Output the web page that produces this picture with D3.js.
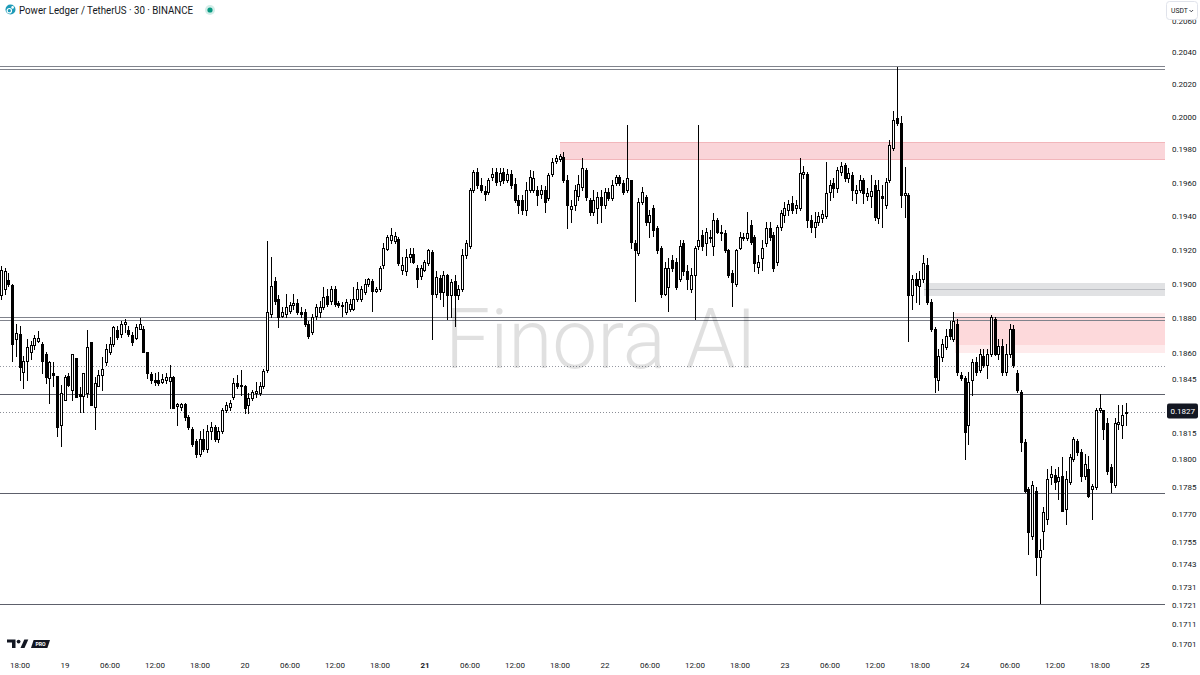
<!DOCTYPE html>
<html>
<head>
<meta charset="utf-8">
<script src="https://cdn.jsdelivr.net/npm/d3@7"></script>
<style>
html,body{margin:0;padding:0;background:#ffffff;}
svg{display:block;}
text{font-family:Roboto,"Liberation Sans",Arial,sans-serif;}
</style>
</head>
<body>
<svg id="chart" width="1200" height="675"></svg>
<script>
// ---------------- DATA (prices in units of 0.0001 USDT) ----------------
const PRICE_UNIT = 1e-4;
const firstCandle = Date.UTC(2025, 8, 18, 15, 30); // 30-minute candles
const candleMinutes = 30;

const openP = [
1893.5,1897.0,1902.2,1899.3,1868.1,1871.0,1849.6,1855.4,1860.6,1864.6,1866.9,1865.2,1859.4,1846.1,1849.0,1847.3,1819.2,
1833.4,1847.3,1839.2,1857.1,1836.9,1835.7,1837.4,1866.4,1829.5,1841.5,1847.8,1854.8,1860.6,1865.2,1873.3,1871.0,1876.7,1873.3,1870.4,1868.7,
1873.8,1873.8,1860.6,1848.4,1844.9,1844.9,1843.8,1844.9,1844.4,1846.7,1830.1,1829.5,1831.2,1824.1,1817.0,1810.5,1803.4,1811.6,1806.1,1815.9,
1818.1,1811.6,1815.9,1827.9,1829.5,1835.1,1843.2,1841.5,1841.5,1830.6,1834.5,1837.4,1837.4,1841.5,1850.7,1882.5,1901.6,1891.2,1881.4,1882.5,
1884.3,1887.7,1888.9,1883.7,1883.7,1876.7,1872.1,1881.4,1883.7,1886.6,1892.9,1890.0,1897.0,1888.9,1887.7,1883.7,1885.4,1885.4,1891.2,1891.2,
1895.2,1899.9,1901.6,1895.8,1897.0,1911.4,1920.9,1925.7,1925.1,1926.3,1908.0,1907.4,1916.1,1917.8,1909.7,1904.5,1908.5,1912.6,1919.0,1894.1,
1903.3,1895.2,1905.1,1893.5,1901.6,1893.5,1897.0,1917.2,1922.7,1955.9,1966.7,1958.9,1955.3,1954.7,1963.7,1966.7,1961.3,1966.7,1961.9,1965.5,
1959.5,1949.9,1949.9,1943.8,1955.9,1955.9,1955.9,1953.5,1955.9,1951.1,1965.5,1973.4,1974.6,1975.8,1961.9,1944.4,1946.8,1952.3,1957.7,1967.9,
1949.9,1942.6,1945.0,1951.7,1946.8,1954.7,1951.1,1960.1,1963.7,1960.1,1955.9,1961.9,1923.9,1918.4,1948.6,1951.7,1936.6,1945.0,1933.0,1921.5,
1894.1,1898.1,1914.3,1913.2,1902.8,1923.9,1907.4,1897.0,1905.6,1922.7,1928.7,1923.9,1927.5,1922.7,1937.8,1930.6,1929.9,1920.0,1906.8,1899.9,
1921.5,1926.9,1926.9,1934.8,1927.5,1910.3,1915.5,1923.9,1933.0,1928.7,1913.2,1933.6,1940.8,1943.8,1948.0,1945.0,1945.0,1965.5,1965.5,1937.8,
1933.6,1936.6,1939.0,1940.2,1954.7,1960.1,1957.1,1966.7,1971.0,1963.1,1964.9,1954.1,1955.9,1961.9,1952.3,1952.3,1958.9,1939.0,1952.3,1946.8,
1961.9,1981.2,1999.3,1996.3,1952.9,1952.9,1893.5,1902.8,1898.7,1902.8,1911.4,1889.5,1873.8,1844.9,1857.7,1863.5,1873.8,1868.1,1876.7,1847.8,
1846.1,1819.7,1844.9,1854.8,1850.7,1858.3,1853.6,1859.4,1879.6,1859.4,1864.1,1849.6,1859.4,1873.8,1849.0,1838.0,1809.9,1784.2,1758.5,1783.1,
1747.0,1761.2,1767.8,1790.7,1791.8,1788.5,1791.3,1773.2,1788.0,1800.6,1810.4,1804.4,1791.3,1795.2,1784.2,1785.3,1827.9,1827.9,1820.8,1796.2,
1786.4,1820.3,1819.2,1826.3
];
const highP = [
1910.8,1909.7,1906.8,1899.9,1876.7,1875.6,1858.3,1868.1,1866.9,1870.4,1872.7,1866.4,1860.6,1855.4,1854.8,1847.3,1842.1,
1847.8,1849.0,1859.4,1857.1,1840.9,1849.0,1873.3,1866.4,1846.7,1850.7,1857.7,1865.2,1869.3,1875.6,1875.6,1878.5,1879.6,1875.6,1872.1,1876.7,
1880.2,1875.6,1860.6,1849.6,1849.0,1849.6,1848.4,1849.0,1853.1,1847.3,1831.8,1831.8,1831.8,1825.2,1818.1,1811.6,1815.9,1817.0,1819.7,1821.4,
1819.7,1818.1,1829.0,1832.3,1833.4,1846.1,1847.8,1850.7,1842.1,1837.4,1839.2,1843.8,1843.8,1851.3,1925.1,1916.1,1903.9,1893.5,1886.6,1894.1,
1889.5,1894.1,1891.2,1886.6,1885.4,1878.5,1882.5,1888.3,1890.0,1898.1,1897.0,1898.7,1898.7,1890.0,1889.5,1891.2,1891.2,1898.1,1901.0,1898.7,
1902.8,1903.3,1902.8,1898.1,1910.8,1923.9,1928.7,1933.0,1930.6,1927.5,1916.1,1920.9,1921.5,1921.5,1911.4,1911.4,1914.3,1920.9,1920.0,1907.4,
1905.6,1907.4,1906.2,1902.8,1905.1,1899.3,1920.9,1925.7,1957.1,1967.9,1969.1,1963.1,1958.3,1963.1,1969.1,1969.1,1969.1,1969.1,1968.5,1967.9,
1963.1,1952.9,1952.9,1960.7,1967.9,1967.3,1958.3,1958.9,1958.3,1966.1,1975.2,1977.0,1977.6,1978.8,1964.9,1949.9,1958.9,1964.9,1975.2,1969.1,
1951.1,1955.9,1954.7,1955.9,1957.1,1957.1,1961.9,1964.9,1964.9,1961.9,1995.1,1961.9,1925.7,1951.1,1957.7,1952.9,1943.8,1946.8,1934.2,1922.7,
1913.2,1915.5,1917.2,1915.5,1925.7,1925.7,1911.4,1909.7,1922.7,1995.1,1931.8,1933.0,1931.8,1942.0,1939.0,1934.8,1931.8,1920.9,1908.5,1920.9,
1930.6,1929.9,1942.6,1937.8,1928.7,1917.2,1925.7,1936.6,1936.6,1930.6,1934.8,1943.8,1948.6,1949.9,1952.3,1949.9,1975.2,1970.4,1966.7,1940.8,
1942.6,1942.6,1943.8,1972.8,1961.9,1963.1,1969.7,1972.8,1972.2,1969.1,1966.7,1958.9,1964.9,1963.1,1957.1,1964.9,1961.9,1961.9,1958.9,1963.1,
1986.0,2004.1,2031.3,2001.1,1969.7,1954.1,1905.6,1906.8,1907.4,1917.2,1915.5,1891.2,1875.0,1862.3,1868.1,1873.8,1878.5,1883.7,1879.6,1849.6,
1847.3,1849.6,1856.5,1857.7,1862.3,1862.3,1862.3,1881.9,1880.8,1868.1,1868.1,1865.2,1876.7,1876.2,1850.7,1839.2,1811.6,1785.3,1788.5,1785.3,
1756.9,1774.3,1795.2,1796.8,1795.2,1796.2,1801.7,1794.0,1803.4,1812.6,1811.6,1806.1,1803.4,1802.2,1786.9,1829.0,1836.9,1827.9,1823.5,1797.9,
1823.5,1830.6,1830.6,1831.8
];
const lowP = [
1891.2,1894.1,1898.7,1855.4,1858.3,1844.9,1840.3,1844.9,1856.5,1862.3,1866.4,1849.0,1843.2,1831.8,1841.5,1813.2,1807.7,
1833.4,1841.5,1833.4,1835.1,1826.8,1826.8,1835.1,1830.6,1817.0,1841.5,1839.2,1853.6,1859.4,1864.1,1868.1,1869.2,1872.1,1869.8,1864.6,1868.1,
1873.8,1860.6,1846.1,1843.2,1842.1,1842.1,1843.2,1843.2,1829.0,1829.0,1819.7,1827.9,1822.5,1817.0,1807.7,1801.7,1802.2,1805.0,1804.4,1811.6,
1810.5,1809.9,1814.8,1826.8,1827.9,1834.0,1840.3,1836.3,1826.3,1826.3,1833.4,1835.1,1836.3,1840.3,1849.6,1880.8,1888.3,1875.0,1880.8,1880.8,
1883.1,1885.4,1882.5,1880.8,1875.6,1868.7,1871.0,1879.6,1880.8,1885.4,1887.2,1888.3,1887.2,1886.6,1881.4,1882.5,1884.3,1884.8,1890.0,1890.0,
1894.1,1898.7,1884.3,1895.2,1895.8,1909.7,1920.0,1923.9,1923.9,1911.4,1906.2,1905.6,1913.2,1912.6,1898.1,1902.8,1907.4,1911.4,1868.1,1892.4,
1891.2,1887.2,1879.6,1880.8,1875.6,1891.2,1895.8,1915.5,1921.5,1954.7,1957.1,1954.7,1949.9,1953.5,1961.9,1958.9,1958.9,1960.1,1960.7,1957.1,
1948.6,1942.0,1941.4,1940.8,1954.7,1954.7,1946.8,1951.1,1942.6,1949.9,1964.3,1972.2,1973.4,1960.7,1933.0,1936.6,1943.8,1949.9,1955.9,1949.9,
1940.8,1940.8,1936.0,1936.6,1945.0,1949.9,1949.9,1958.9,1958.9,1953.5,1954.7,1921.5,1890.0,1917.2,1947.4,1934.8,1927.5,1928.1,1918.4,1892.4,
1893.5,1884.3,1907.4,1897.0,1901.6,1905.6,1897.0,1895.2,1879.6,1920.9,1920.0,1917.2,1924.5,1917.2,1929.9,1925.7,1919.0,1904.0,1887.2,1898.7,
1920.9,1925.7,1925.7,1923.3,1907.4,1906.8,1908.5,1922.7,1925.7,1907.4,1911.4,1931.8,1936.6,1940.8,1942.0,1942.0,1943.8,1963.1,1933.6,1930.6,
1927.5,1934.8,1936.6,1939.0,1949.9,1951.7,1954.7,1964.9,1961.3,1960.7,1949.9,1948.0,1954.7,1948.0,1949.9,1945.6,1937.8,1936.0,1933.6,1945.0,
1960.7,1980.0,1995.1,1945.6,1939.6,1866.9,1885.4,1889.5,1888.3,1901.0,1888.3,1872.7,1838.0,1839.2,1855.4,1862.3,1868.1,1866.9,1847.8,1844.9,
1800.6,1808.8,1836.3,1847.8,1849.6,1852.4,1846.1,1858.3,1858.8,1856.5,1847.8,1847.8,1857.7,1852.4,1838.0,1805.0,1782.5,1748.7,1756.9,1737.7,
1722.4,1751.4,1765.1,1786.9,1784.2,1778.7,1772.1,1765.1,1786.9,1799.5,1802.8,1788.5,1789.6,1779.8,1767.8,1784.2,1826.8,1811.6,1792.4,1782.5,
1785.3,1817.0,1812.4,1819.6
];
const closeP = [
1908.5,1907.4,1899.9,1865.2,1871.6,1852.4,1855.4,1863.5,1864.6,1868.7,1868.7,1855.4,1846.7,1854.8,1847.8,1818.4,1837.5,
1846.7,1842.1,1859.4,1835.1,1835.7,1849.0,1863.5,1830.6,1843.2,1847.8,1851.3,1862.3,1865.2,1875.0,1869.2,1876.7,1877.9,1871.0,1866.4,1875.0,
1876.7,1860.6,1849.0,1844.9,1843.8,1843.2,1845.5,1846.7,1846.7,1829.0,1831.2,1831.2,1824.1,1818.1,1808.8,1803.4,1811.6,1806.1,1815.9,1818.1,
1811.6,1815.9,1827.9,1830.6,1831.8,1843.2,1841.5,1842.1,1829.0,1834.5,1838.0,1838.6,1841.5,1850.2,1883.7,1898.7,1890.0,1880.8,1883.7,1886.6,
1887.7,1888.9,1883.7,1882.5,1876.7,1869.8,1880.8,1886.6,1886.6,1892.4,1888.3,1897.0,1888.3,1887.7,1887.2,1889.5,1888.3,1891.2,1897.0,1897.0,
1899.9,1902.8,1895.8,1897.0,1909.7,1921.5,1927.5,1928.7,1928.1,1912.6,1911.4,1916.1,1917.8,1913.2,1902.8,1909.7,1913.2,1920.0,1894.1,1903.9,
1895.2,1905.6,1893.5,1901.0,1893.5,1897.0,1917.2,1923.9,1955.9,1966.7,1958.9,1955.9,1953.5,1961.9,1965.5,1960.7,1966.1,1961.9,1965.5,1958.9,
1949.9,1946.8,1943.8,1955.9,1963.7,1963.1,1952.9,1955.9,1948.6,1964.9,1972.8,1975.2,1976.4,1961.9,1946.8,1946.2,1955.9,1959.5,1969.1,1951.7,
1942.6,1949.9,1951.7,1946.8,1954.7,1951.1,1958.9,1963.7,1960.1,1954.7,1963.1,1924.5,1920.0,1948.6,1954.7,1936.6,1940.8,1931.8,1920.0,1894.1,
1909.7,1909.7,1909.7,1898.1,1922.7,1907.4,1902.8,1905.6,1921.5,1925.7,1922.7,1930.6,1926.9,1937.8,1930.6,1929.9,1920.0,1905.6,1901.0,1920.0,
1927.5,1927.5,1929.9,1924.5,1912.6,1913.2,1921.5,1933.0,1927.5,1909.7,1933.6,1942.0,1945.0,1947.4,1943.8,1946.8,1966.1,1966.7,1937.8,1933.6,
1936.6,1940.2,1941.4,1954.1,1958.9,1957.1,1967.9,1970.4,1963.1,1966.1,1955.9,1955.9,1961.9,1954.1,1954.1,1955.3,1939.6,1955.9,1951.1,1960.7,
1983.0,1998.1,1996.3,1952.9,1954.1,1893.5,1902.8,1899.3,1902.8,1912.6,1889.5,1873.8,1846.7,1858.3,1865.2,1869.8,1869.8,1878.5,1849.6,1846.1,
1815.4,1843.8,1854.8,1849.6,1859.4,1853.6,1859.4,1880.8,1859.4,1864.1,1849.6,1859.4,1873.8,1853.6,1839.2,1809.9,1783.1,1760.6,1786.4,1747.0,
1750.8,1771.6,1789.6,1792.4,1788.0,1790.7,1772.1,1789.6,1801.7,1811.6,1804.4,1791.3,1797.9,1780.3,1785.8,1827.9,1829.0,1817.0,1794.0,1788.0,
1820.8,1821.4,1825.2,1827.0
];

// Price-axis tick labels
const priceTicks = [0.2060,0.2040,0.2020,0.2000,0.1980,0.1960,0.1940,0.1920,0.1900,0.1880,0.1860,
  0.1845,0.1830,0.1815,0.1800,0.1785,0.1770,0.1755,0.1743,0.1731,0.1721,0.1711,0.1701];
// Time-axis tick labels (every 6 hours from 18 Sep 18:00)
const timeTickStart = Date.UTC(2025, 8, 18, 18, 0);
const timeTickLabels = ["18:00","19","06:00","12:00","18:00","20","06:00","12:00","18:00","21","06:00","12:00","18:00",
  "22","06:00","12:00","18:00","23","06:00","12:00","18:00","24","06:00","12:00","18:00","25"];
const boldTimeLabels = ["21"];

// Drawn levels and zones (prices)
const doubleLevels = [[0.20318, 0.20299], [0.18807, 0.18792]];
const solidLevels = [0.18369, 0.17818, 0.17221];
const dottedLevels = [0.18529];
const supplyZone = {top: 0.19849, bottom: 0.19739, from: Date.UTC(2025, 8, 21, 18, 0)};
const greyZone = {top: 0.19007, bottom: 0.18931, mid: 0.18972, from: Date.UTC(2025, 8, 23, 18, 30)};
const redZones = [{top: 0.18832, bottom: 0.18648, from: Date.UTC(2025, 8, 23, 22, 40)},
                  {top: 0.18809, bottom: 0.18602, from: Date.UTC(2025, 8, 23, 22, 40)}];

const titleText = "Power Ledger / TetherUS · 30 · BINANCE";
const currency = "USDT";
const watermark = "Finora AI";

// ---------------- BUILD ----------------
const candles = openP.map((o, k) => ({
  t: new Date(firstCandle + k * candleMinutes * 60000),
  o: o * PRICE_UNIT, h: highP[k] * PRICE_UNIT, l: lowP[k] * PRICE_UNIT, c: closeP[k] * PRICE_UNIT
}));
const lastPrice = candles[candles.length - 1].c;

const W = 1200, H = 675, plotRight = 1165;
const svg = d3.select("#chart");
svg.append("rect").attr("width", W).attr("height", H).attr("fill", "#ffffff");

const x = d3.scaleUtc()
  .domain([new Date(Date.UTC(2025, 8, 19)), new Date(Date.UTC(2025, 8, 25))])
  .range([65, 1145]);
const y = d3.scaleLog().domain([0.1701, 0.2000]).range([644, 117.3]);

const plot = svg.append("g");

// zones
function zone(z, fill, stroke) {
  const y0 = Math.round(y(z.top)), y1 = Math.round(y(z.bottom));
  const x0 = Math.round(x(new Date(z.from)));
  plot.append("rect").attr("x", x0).attr("y", y0).attr("width", plotRight - x0).attr("height", y1 - y0)
    .attr("fill", fill);
  if (stroke) {
    [y0 + 0.5, y1 - 0.5].forEach(v => plot.append("line").attr("x1", x0).attr("x2", plotRight)
      .attr("y1", v).attr("y2", v).attr("stroke", stroke).attr("stroke-width", 1));
  }
  return x0;
}
zone(supplyZone, "rgba(235,80,95,0.24)", "rgba(220,90,100,0.25)");
const gx = zone(greyZone, "rgba(120,123,134,0.22)", null);
plot.append("line").attr("x1", gx).attr("x2", plotRight)
  .attr("y1", Math.round(y(greyZone.mid)) + 0.5).attr("y2", Math.round(y(greyZone.mid)) + 0.5)
  .attr("stroke", "rgba(120,123,134,0.35)");
redZones.forEach(z => zone(z, "rgba(242,54,69,0.10)", null));

// horizontal levels
function hline(p, color, dash) {
  const v = Math.round(y(p)) + 0.5;
  const l = plot.append("line").attr("x1", 0).attr("x2", plotRight).attr("y1", v).attr("y2", v)
    .attr("stroke", color).attr("stroke-width", 1);
  if (dash) l.attr("stroke-dasharray", dash);
}
doubleLevels.forEach(pair => pair.forEach(p => hline(p, "#80838c")));
solidLevels.forEach(p => hline(p, "#5d606b"));
dottedLevels.forEach(p => hline(p, "#9598a1", "1,2"));
hline(lastPrice, "#8a8d96", "1,2");

// watermark
svg.append("text").attr("x", 445).attr("y", 368).attr("font-size", 84).attr("font-weight", 300)
  .attr("textLength", 312).attr("lengthAdjust", "spacingAndGlyphs")
  .attr("fill", "#000").attr("fill-opacity", 0.12).text(watermark);

// candles
const cg = plot.append("g");
const cs = cg.selectAll("g.c").data(candles).join("g").attr("class", "c");
cs.each(function(d) {
  const g = d3.select(this);
  const px = Math.round(x(d.t) - 1.5);
  const hi = Math.max(d.h, d.o, d.c), lo = Math.min(d.l, d.o, d.c);
  const yh = Math.round(y(hi)), yl = Math.round(y(lo));
  g.append("line").attr("x1", px + 1.5).attr("x2", px + 1.5).attr("y1", yh).attr("y2", yl + 1)
    .attr("stroke", "#000").attr("stroke-width", 1);
  const yTop = Math.round(y(Math.max(d.o, d.c)));
  const yBot = Math.round(y(Math.min(d.o, d.c)));
  const hgt = Math.max(1, yBot - yTop + 1);
  g.append("rect").attr("x", px).attr("y", yTop).attr("width", 3).attr("height", hgt).attr("fill", "#000");
  if (d.c >= d.o && hgt > 2) {
    g.append("rect").attr("x", px + 1).attr("y", yTop + 1).attr("width", 1).attr("height", hgt - 2).attr("fill", "#fff");
  }
});

// price axis (labels hidden behind the last-price tag are clipped like in the original)
const axisFont = 8, axisColor = "#131722";
const ly = y(lastPrice);
svg.append("defs").append("clipPath").attr("id", "tagclip")
  .append("rect").attr("x", 1166).attr("y", 0).attr("width", 34).attr("height", ly - 8);
svg.append("g").selectAll("text").data(priceTicks).join("text")
  .attr("x", 1172).attr("y", d => y(d)).attr("dominant-baseline", "central")
  .attr("font-size", axisFont).attr("fill", axisColor)
  .attr("clip-path", d => Math.abs(y(d) - ly) < 10 ? "url(#tagclip)" : null)
  .text(d => d.toFixed(4));

// current price label
svg.append("rect").attr("x", 1167).attr("y", ly - 8).attr("width", 31).attr("height", 15).attr("rx", 2)
  .attr("fill", "#131722");
svg.append("text").attr("x", 1170.5).attr("y", ly - 0.5).attr("dominant-baseline", "central")
  .attr("font-size", axisFont).attr("fill", "#fff").text(lastPrice.toFixed(4));

// currency button
svg.append("rect").attr("x", 1166.5).attr("y", 1.5).attr("width", 31).attr("height", 18).attr("rx", 3)
  .attr("fill", "#fff").attr("stroke", "#e0e3eb");
svg.append("text").attr("x", 1171).attr("y", 11).attr("dominant-baseline", "central")
  .attr("font-size", 6.8).attr("fill", axisColor).text(currency);
svg.append("path").attr("d", "M1189.5,10 l1.8,1.8 l1.8,-1.8").attr("fill", "none").attr("stroke", axisColor).attr("stroke-width", 0.8);

// time axis
const timeTicks = timeTickLabels.map((lab, k) => ({lab, t: new Date(timeTickStart + k * 6 * 3600000)}));
svg.append("g").selectAll("text").data(timeTicks).join("text")
  .attr("x", d => x(d.t)).attr("y", 665.5).attr("text-anchor", "middle").attr("dominant-baseline", "central")
  .attr("font-size", axisFont).attr("fill", axisColor)
  .attr("font-weight", d => boldTimeLabels.includes(d.lab) ? 700 : 400)
  .text(d => d.lab);

// header
const hdr = svg.append("g");
hdr.append("circle").attr("cx", 10.5).attr("cy", 9.5).attr("r", 5).attr("fill", "#1e9bb8");
hdr.append("circle").attr("cx", 9.3).attr("cy", 10.7).attr("r", 2.2).attr("fill", "none").attr("stroke", "#fff").attr("stroke-width", 1.2);
hdr.append("circle").attr("cx", 12.6).attr("cy", 7.4).attr("r", 1.3).attr("fill", "#fff");
hdr.append("text").attr("x", 19).attr("y", 14).attr("font-size", 10).attr("fill", "#131722")
  .attr("textLength", 174).attr("lengthAdjust", "spacingAndGlyphs").text(titleText);
hdr.append("circle").attr("cx", 210).attr("cy", 10).attr("r", 5).attr("fill", "rgba(8,153,129,0.18)");
hdr.append("circle").attr("cx", 210).attr("cy", 10).attr("r", 2.6).attr("fill", "#089981");

// TradingView PRO logo
const lg = svg.append("g").attr("fill", "#131722");
lg.append("path").attr("d", "M7,639.5 H15.5 V648 H12 V642.6 H7 Z");
lg.append("circle").attr("cx", 18.6).attr("cy", 641.6).attr("r", 1.9);
lg.append("path").attr("d", "M20.5,648 L24.3,639.5 H28.3 L24.5,648 Z");
lg.append("path").attr("d", "M31,648 L33.6,640 H50 L47.4,648 Z");
svg.append("text").attr("x", 40.5).attr("y", 644.3).attr("text-anchor", "middle").attr("dominant-baseline", "central")
  .attr("font-size", 5.2).attr("font-weight", 700).attr("fill", "#fff").text("PRO");
</script>
</body>
</html>
